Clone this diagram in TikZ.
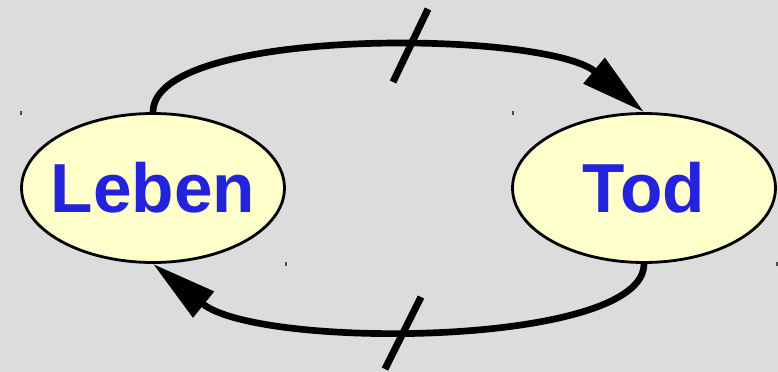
\documentclass[tikz,border=0pt]{standalone}
\usepackage{fontspec}
\setmainfont{Liberation Sans}
\usetikzlibrary{arrows.meta,shapes.geometric}
\definecolor{bggray}{HTML}{DCDCDC}
\definecolor{statefill}{HTML}{FFFFCC}
\definecolor{statetext}{HTML}{2323DC}
\newcommand{\statelabel}[1]{\makebox[0pt]{#1}}

\begin{document}
\begin{tikzpicture}[x=0.02cm,y=-0.02cm,
  state/.style={ellipse, draw, line width=1.6pt, fill=statefill,
    minimum width=5.26cm, minimum height=2.98cm, inner sep=0pt,
    text=statetext, font=\fontsize{39.5}{41}\selectfont\bfseries},
  trans/.style={line width=3.8pt, -{Triangle[length=1.3cm,width=0.64cm]}},
  cut/.style={line width=4pt},
  tick/.style={line width=1.1pt, black!70}]
  \fill[bggray] (0,0) rectangle (778,372);
  \useasboundingbox (0,0) rectangle (778,372);
  % states
  \node[state] (leben) at (153,188) {\statelabel{Leben}};
  \node[state] (tod)   at (644,188) {\statelabel{Tod}};
  % transitions
  \draw[trans] (leben.north) .. controls (153,26) and (545,30) .. (tod.north);
  \draw[trans] (tod.south) .. controls (644,347) and (260,350) .. (leben.south);
  % cut marks
  \draw[cut] (393,82) -- (428,9);
  \draw[cut] (385,369) -- (421,297);
  % corner ticks
  \draw[tick] (21,111) -- (21,115);
  \draw[tick] (513,111) -- (513,115);
  \draw[tick] (286,262) -- (286,266);
  \draw[tick] (777,262) -- (777,266);
\end{tikzpicture}
\end{document}
